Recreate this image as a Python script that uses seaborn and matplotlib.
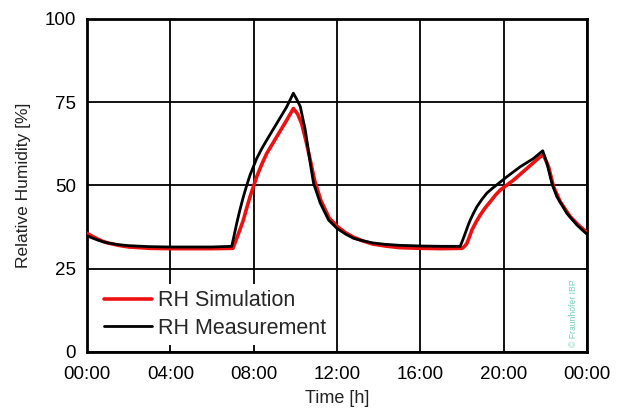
import numpy as np
import pandas as pd
import matplotlib
matplotlib.use("Agg")
import matplotlib.pyplot as plt
import seaborn as sns

# Measurement (black)
t_meas = [0, 0.25, 0.5, 0.75, 1, 1.5, 2, 3, 4, 5, 6, 6.94,
          7.05, 7.18, 7.34, 7.5, 7.66, 7.82, 8.14, 8.38, 8.62, 9.1, 9.58, 9.9,
          10.05, 10.23, 10.47, 10.71, 10.87, 11.19, 11.59, 11.99, 12.4, 12.79, 13.2, 13.74, 14.3, 15, 16, 17, 17.91,
          18.03, 18.15, 18.27, 18.39, 18.55, 18.71, 18.95, 19.19, 19.43, 19.67, 20.15, 20.79, 21.43, 21.87,
          22.07, 22.31, 22.55, 23.03, 23.51, 24]
rh_meas = [34.8, 34.2, 33.6, 33.1, 32.7, 32.2, 31.9, 31.6, 31.5, 31.5, 31.5, 31.7,
           34.8, 38.6, 42.8, 46.6, 50.0, 53.1, 58.1, 61.0, 63.6, 68.6, 73.6, 77.7,
           76.0, 73.7, 66.7, 56.7, 50.6, 44.7, 39.6, 37.1, 35.4, 34.1, 33.4, 32.7, 32.3, 32.0, 31.8, 31.7, 31.7,
           33.6, 35.6, 37.7, 39.6, 41.7, 43.6, 45.8, 47.7, 49.0, 50.2, 52.6, 55.6, 58.1, 60.4,
           56.7, 50.6, 46.6, 41.6, 38.1, 35.3]

# Simulation (red)
t_sim = [0, 0.25, 0.5, 0.75, 1, 1.5, 2, 3, 4, 5, 6, 7.0,
         7.18, 7.34, 7.5, 7.66, 7.82, 8.14, 8.38, 8.62, 9.1, 9.58, 9.9,
         10.1, 10.3, 10.5, 10.75, 10.92, 11.22, 11.62, 12.0, 12.4, 12.8, 13.2, 13.7, 14.3, 15, 16, 17, 18.0,
         18.12, 18.23, 18.35, 18.47, 18.67, 18.87, 19.1, 19.35, 19.59, 19.83, 20.47, 21.11, 21.75, 21.9,
         22.15, 22.39, 22.71, 23.19, 23.6, 24]
rh_sim = [35.6, 34.7, 33.9, 33.2, 32.7, 32.0, 31.5, 31.1, 31.0, 31.0, 31.0, 31.1,
          34.1, 36.8, 39.6, 43.2, 46.6, 52.6, 56.3, 59.6, 64.6, 69.6, 73.1,
          71.5, 68.5, 63.5, 56.5, 51.5, 45.5, 40.2, 37.7, 35.8, 34.4, 33.4, 32.4, 31.8, 31.3, 31.1, 31.0, 31.1,
          31.7, 32.6, 34.5, 36.6, 39.0, 41.1, 43.2, 45.1, 47.0, 48.6, 51.6, 55.1, 58.6, 59.2,
          55.6, 49.6, 45.1, 40.6, 38.0, 35.8]

x_ticks = [0, 4, 8, 12, 16, 20, 24]
x_ticklabels = ["00:00", "04:00", "08:00", "12:00", "16:00", "20:00", "00:00"]
y_ticks = [0, 25, 50, 75, 100]

sns.set_style("white")
plt.rcParams['font.family'] = ['Liberation Sans', 'DejaVu Sans']

df_sim = pd.DataFrame({"t": t_sim, "rh": rh_sim})
df_meas = pd.DataFrame({"t": t_meas, "rh": rh_meas})

fig = plt.figure(figsize=(6.18, 4.12), dpi=100)
ax = fig.add_axes([0.141, 0.146, 0.809, 0.808])

sns.lineplot(data=df_sim, x="t", y="rh", ax=ax, color="#ee1111", linewidth=2.6,
             label="RH Simulation", zorder=3)
sns.lineplot(data=df_meas, x="t", y="rh", ax=ax, color="black", linewidth=2.0,
             label="RH Measurement", zorder=4)

ax.set_xlim(0, 24)
ax.set_ylim(0, 100)
ax.set_xticks(x_ticks)
ax.set_xticklabels(x_ticklabels)
ax.set_yticks(y_ticks)
ax.grid(True, color="black", linewidth=1.3)
ax.set_axisbelow(True)
for s in ax.spines.values():
    s.set_color("black")
    s.set_linewidth(2.0)
    s.set_visible(True)
    s.set_zorder(2.5)
ax.tick_params(axis="both", labelsize=13.5, colors="black", direction="in", length=4, width=1.3)
ax.tick_params(axis="x", pad=10)
ax.tick_params(axis="y", pad=8)
ax.set_xlabel("Time [h]", fontsize=13, color="#222222", labelpad=5)
ax.set_ylabel("Relative Humidity [%]", fontsize=12.5, color="#222222", labelpad=10)

leg = ax.legend(loc="lower left", bbox_to_anchor=(0.0, -0.013), fontsize=15.5, frameon=True,
                framealpha=1, edgecolor="white", fancybox=False, handlelength=2.2,
                handletextpad=0.28, labelspacing=0.3, borderpad=0.3)
leg.get_frame().set_linewidth(0)
leg.set_zorder(2)

ax.text(0.972, 0.015, "© Fraunhofer IBP", transform=ax.transAxes, rotation=90,
        fontsize=6.2, color="#78d0b4", ha="center", va="bottom", zorder=3)

fig.savefig("out.png", dpi=100)
